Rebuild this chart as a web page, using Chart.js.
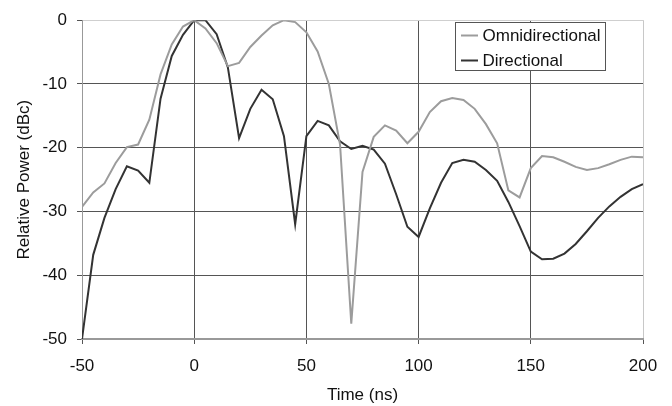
<!DOCTYPE html>
<html>
<head>
<meta charset="utf-8">
<script src="https://cdn.jsdelivr.net/npm/chart.js@4/dist/chart.umd.min.js"></script>
<style>
html,body{margin:0;padding:0;background:#fff;}
#wrap{width:672px;height:406px;position:relative;}
</style>
</head>
<body>
<div id="wrap"><canvas id="c" width="672" height="406"></canvas></div>
<script>
const timeNs = [-50,-45,-40,-35,-30,-25,-20,-15,-10,-5,0,5,10,15,20,25,30,35,40,45,50,55,60,65,70,75,80,85,90,95,100,105,110,115,120,125,130,135,140,145,150,155,160,165,170,175,180,185,190,195,200];
const omnidirectional = [-29.3,-27,-25.6,-22.4,-19.9,-19.5,-15.6,-8.5,-3.8,-1,0,-1.3,-3.6,-7.2,-6.7,-4.2,-2.4,-0.8,0,-0.3,-1.9,-4.9,-10,-19.5,-47.6,-23.8,-18.3,-16.5,-17.3,-19.3,-17.5,-14.4,-12.7,-12.2,-12.5,-13.9,-16.3,-19.3,-26.7,-27.8,-23.2,-21.3,-21.5,-22.2,-23,-23.5,-23.2,-22.6,-21.9,-21.4,-21.5];
const directional = [-50,-36.8,-31,-26.5,-22.9,-23.6,-25.5,-12.3,-5.6,-2.3,0,0,-2.2,-7.4,-18.5,-13.9,-10.9,-12.4,-18.2,-32,-18.2,-15.8,-16.5,-19,-20.2,-19.7,-20.3,-22.5,-27.3,-32.4,-34,-29.5,-25.5,-22.4,-21.9,-22.2,-23.5,-25.2,-28.5,-32.3,-36.3,-37.5,-37.4,-36.6,-35.1,-33.1,-31,-29.2,-27.7,-26.5,-25.7];
const seriesNames = ['Omnidirectional','Directional'];
const xTitle = 'Time (ns)';
const yTitle = 'Relative Power (dBc)';

const FONT = 'Liberation Sans, Arial, sans-serif';
const colors = ['#9c9c9c','#333333'];

const toPts = arr => arr.map((v,i)=>({x:timeNs[i], y:v}));

const legendPlugin = {
  id:'boxLegend',
  afterDraw(chart){
    const ctx = chart.ctx;
    ctx.save();
    ctx.strokeStyle = '#555';
    ctx.lineWidth = 1;
    ctx.fillStyle = '#fff';
    ctx.fillRect(455.5,22.5,150,48);
    ctx.strokeRect(455.5,22.5,150,48);
    const rows = [35.5, 60.5];
    ctx.font = '17px ' + FONT;
    ctx.textBaseline = 'middle';
    ctx.textAlign = 'left';
    seriesNames.forEach((n,i)=>{
      ctx.strokeStyle = colors[i];
      ctx.lineWidth = 2;
      ctx.beginPath();
      ctx.moveTo(461, rows[i]);
      ctx.lineTo(478, rows[i]);
      ctx.stroke();
      ctx.fillStyle = '#111';
      ctx.fillText(n, 482.5, rows[i]+1);
    });
    ctx.restore();
  }
};

new Chart(document.getElementById('c'), {
  type:'line',
  data:{
    datasets:[
      {label:seriesNames[0], data:toPts(omnidirectional), borderColor:colors[0], borderWidth:2, pointRadius:0, tension:0, fill:false},
      {label:seriesNames[1], data:toPts(directional), borderColor:colors[1], borderWidth:2, pointRadius:0, tension:0, fill:false}
    ]
  },
  options:{
    responsive:false,
    animation:false,
    devicePixelRatio:1,
    layout:{padding:{left:0,right:29,top:15,bottom:0}},
    plugins:{legend:{display:false}, tooltip:{enabled:false}},
    scales:{
      x:{
        type:'linear', min:-50, max:200,
        ticks:{stepSize:50, color:'#111', font:{family:FONT,size:17}, padding:12, maxRotation:0},
        grid:{
          color:(c)=> (c.tick && (c.tick.value===-50 || c.tick.value===200)) ? (c.tick.value===200?'#c8c8c8':'#999') : '#555',
          tickColor:'#555', tickLength:5, drawTicks:true
        },
        border:{color:'#999', width:2},
        title:{display:true, text:xTitle, color:'#111', font:{family:FONT,size:17}, padding:{top:0,bottom:0}},
        afterFit(s){ s.height = 67; }
      },
      y:{
        type:'linear', min:-50, max:0,
        ticks:{stepSize:10, color:'#111', font:{family:FONT,size:17}, padding:10},
        grid:{
          color:(c)=> (c.tick && c.tick.value===0) ? '#cfcfcf' : (c.tick && c.tick.value===-50 ? '#999' : '#555'),
          tickColor:'#555', tickLength:5, drawTicks:true
        },
        border:{color:'#999', width:1},
        title:{display:true, text:yTitle, color:'#111', font:{family:FONT,size:17}, padding:{top:14,bottom:0}},
        afterFit(s){ s.width = 82; }
      }
    }
  },
  plugins:[legendPlugin]
});
</script>
</body>
</html>
